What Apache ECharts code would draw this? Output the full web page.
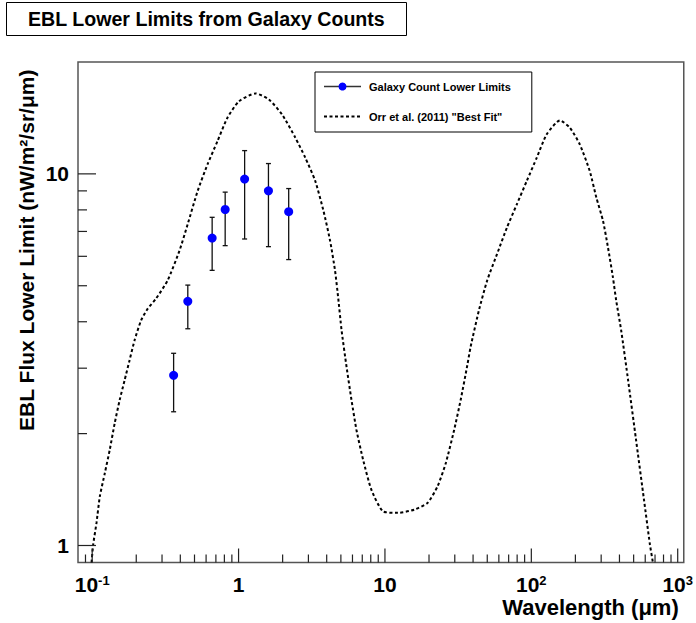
<!DOCTYPE html>
<html>
<head>
<meta charset="utf-8">
<script src="https://cdn.jsdelivr.net/npm/echarts@6/dist/echarts.min.js"></script>
<style>
  html, body { margin: 0; padding: 0; background: #fff; }
  #chart { width: 696px; height: 623px; }
</style>
</head>
<body>
<div id="chart"></div>
<script>
// ---- Data ----
const titleText = 'EBL Lower Limits from Galaxy Counts';
const xTitle = 'Wavelength (\u03bcm)';
const yTitle = 'EBL Flux Lower Limit (nW/m\u00b2/sr/\u03bcm)';
const seriesNames = ['Galaxy Count Lower Limits', 'Orr et al. (2011) "Best Fit"'];

// Galaxy count points (wavelength in micron, flux, lower/upper error bar ends)
const galaxyWavelength = [0.36, 0.45, 0.66, 0.81, 1.1, 1.6, 2.2];
const galaxyFlux       = [2.87, 4.54, 6.72, 8.02, 9.68, 9.0, 7.91];
const galaxyErrLow     = [2.29, 3.83, 5.50, 6.41, 6.68, 6.37, 5.88];
const galaxyErrHigh    = [3.29, 5.02, 7.64, 8.93, 11.55, 10.66, 9.13];

// Orr et al. (2011) "Best Fit" curve
const orrX = [0.099, 0.1016, 0.107, 0.1128, 0.122, 0.1318, 0.1425, 0.1541, 0.1666, 0.1801, 0.1948, 0.2159, 0.2397, 0.2729, 0.3275, 0.395, 0.4496, 0.5256, 0.6145, 0.7184, 0.8396, 1.008, 1.308, 1.61, 1.982, 2.443, 2.855, 3.338, 3.8, 4.219, 4.56, 4.8, 5.055, 5.466, 5.909, 6.389, 7.093, 8.074, 9.69, 12.25, 15.9, 19.56, 22.87, 26.04, 29.7, 32.9, 36.54, 38.47, 43.85, 49.93, 58.37, 68.22, 79.74, 93.2, 109, 127.4, 156.8, 183.3, 214.2, 250.4, 278, 308.7, 333.8, 360.8, 379.9, 410.9, 458.2, 519.3, 588.3, 646, 677];
const orrY = [0.9, 1.006, 1.15, 1.356, 1.566, 1.809, 2.133, 2.463, 2.786, 3.153, 3.567, 4.036, 4.338, 4.615, 5.167, 6.218, 7.33, 9.0, 10.62, 12.26, 14.16, 15.69, 16.46, 15.86, 14.45, 12.51, 11.06, 9.58, 7.96, 6.61, 5.495, 4.615, 3.794, 3.025, 2.463, 2.046, 1.701, 1.413, 1.236, 1.224, 1.249, 1.302, 1.442, 1.666, 2.046, 2.463, 3.057, 3.422, 4.293, 5.167, 6.09, 7.178, 8.295, 9.58, 11.06, 12.78, 13.93, 13.31, 12.01, 10.19, 8.64, 7.48, 6.346, 5.272, 4.566, 3.794, 2.786, 1.924, 1.328, 1.006, 0.9];

// Axis ranges and ticks
const xRange = [0.08, 1100];
const yRange = [0.9, 20];
const xMajorTicks = [0.1, 1, 10, 100, 1000];
const yMajorTicks = [1, 10];
const minorMultipliers = [2, 3, 4, 5, 6, 7, 8, 9];
const xDecades = [0.01, 0.1, 1, 10, 100, 1000];
const yDecades = [0.1, 1, 10];

// ---- Build ----
const FONT = "'Liberation Sans', Arial, sans-serif";
function minorTicks(decades, range) {
  const out = [];
  decades.forEach(d => minorMultipliers.forEach(m => {
    const v = m * d;
    if (v > range[0] * 1.0001 && v < range[1] * 0.9999) out.push(v);
  }));
  return out;
}
const tickData = [];
xMajorTicks.forEach(v => tickData.push([v, yRange[0], 14, 0]));
minorTicks(xDecades, xRange).forEach(v => tickData.push([v, yRange[0], 8, 0]));
yMajorTicks.forEach(v => tickData.push([xRange[0], v, 18, 1]));
minorTicks(yDecades, yRange).forEach(v => tickData.push([xRange[0], v, 9, 1]));

const pointData = galaxyWavelength.map((x, i) => [x, galaxyFlux[i]]);
const errData = galaxyWavelength.map((x, i) => [x, galaxyErrLow[i], galaxyErrHigh[i]]);
const curveData = orrX.map((x, i) => [x, orrY[i]]);

function powLabel(v) {
  const e = Math.log10(v);
  const r = Math.round(e);
  if (Math.abs(e - r) > 1e-6) return '';
  if (r === 0) return '{b|1}';
  if (r === 1) return '{b|10}';
  return '{b|10}{s|' + r + '}';
}

const richLabel = {
  b: { fontSize: 21, fontWeight: 'bold', fontFamily: FONT, color: '#000', verticalAlign: 'bottom' },
  s: { fontSize: 13, fontWeight: 'bold', fontFamily: FONT, color: '#000', verticalAlign: 'top' }
};

const chart = echarts.init(document.getElementById('chart'), null, { renderer: 'svg' });
chart.setOption({
  animation: false,
  backgroundColor: '#fff',
  title: {
    text: titleText,
    left: 6, top: 2,
    padding: [5, 22, 5, 22],
    borderColor: '#000', borderWidth: 1,
    backgroundColor: '#fff',
    textStyle: { fontFamily: FONT, fontSize: 19.6, lineHeight: 24, fontWeight: 'bold', color: '#000' }
  },
  legend: {
    left: 315, top: 72,
    orient: 'vertical',
    itemWidth: 37, itemHeight: 10, itemGap: 19,
    padding: [9, 21, 10, 8],
    borderColor: '#000', borderWidth: 1,
    backgroundColor: '#fff',
    textStyle: { fontSize: 11, fontWeight: 'bold', fontFamily: FONT, color: '#000', padding: [0, 0, 0, 3] },
    data: [
      { name: seriesNames[0], lineStyle: { color: '#333', width: 1.3, opacity: 1, type: 'solid' } },
      { name: seriesNames[1], itemStyle: { opacity: 0 } }
    ]
  },
  grid: {
    left: 78, right: 8, top: 62, bottom: 60.5,
    show: true, borderColor: '#555', borderWidth: 1.5, backgroundColor: 'transparent'
  },
  xAxis: {
    type: 'log', logBase: 10, min: xRange[0], max: xRange[1],
    axisLine: { show: false }, axisTick: { show: false }, splitLine: { show: false },
    axisLabel: { margin: 11, formatter: powLabel, rich: richLabel },
    name: xTitle, nameLocation: 'end', nameGap: -5, nameMoveOverlap: false,
    nameTextStyle: { align: 'right', verticalAlign: 'top', padding: [34, 0, 0, 0], fontSize: 22, fontWeight: 'bold', fontFamily: FONT, color: '#000' }
  },
  yAxis: {
    type: 'log', logBase: 10, min: yRange[0], max: yRange[1],
    axisLine: { show: false }, axisTick: { show: false }, splitLine: { show: false },
    axisLabel: { margin: 9, formatter: powLabel, rich: richLabel },
    name: yTitle, nameLocation: 'middle', nameGap: 41, nameRotate: 90, nameMoveOverlap: false,
    nameTextStyle: { fontSize: 21, fontWeight: 'bold', fontFamily: FONT, color: '#000', padding: [0, 0, 0, 124] }
  },
  series: [
    {
      type: 'custom', name: 'ticks', silent: true, z: 5,
      data: tickData,
      encode: { x: 0, y: 1 },
      renderItem: function (params, api) {
        const p = api.coord([api.value(0), api.value(1)]);
        const len = api.value(2), dir = api.value(3);
        const shape = dir === 0
          ? { x1: p[0], y1: p[1], x2: p[0], y2: p[1] - len }
          : { x1: p[0], y1: p[1], x2: p[0] + len, y2: p[1] };
        return { type: 'line', shape: shape, style: { stroke: '#222', lineWidth: 1.2 } };
      }
    },
    {
      type: 'line', name: seriesNames[1], data: curveData,
      showSymbol: false, symbol: 'none', smooth: 0.2, z: 2,
      lineStyle: { color: '#000', width: 2, type: [3, 2.5] },
      itemStyle: { color: '#000' }
    },
    {
      type: 'custom', name: 'errors', silent: true, z: 3,
      data: errData,
      encode: { x: 0, y: [1, 2] },
      renderItem: function (params, api) {
        const x = api.value(0);
        const lo = api.coord([x, api.value(1)]);
        const hi = api.coord([x, api.value(2)]);
        const cw = 2.5;
        const st = { stroke: '#111', lineWidth: 1.3 };
        return {
          type: 'group', children: [
            { type: 'line', shape: { x1: lo[0], y1: lo[1], x2: hi[0], y2: hi[1] }, style: st },
            { type: 'line', shape: { x1: lo[0] - cw, y1: lo[1], x2: lo[0] + cw, y2: lo[1] }, style: st },
            { type: 'line', shape: { x1: hi[0] - cw, y1: hi[1], x2: hi[0] + cw, y2: hi[1] }, style: st }
          ]
        };
      }
    },
    {
      type: 'line', name: seriesNames[0], data: pointData,
      symbol: 'circle', symbolSize: 9, showSymbol: true, z: 4,
      lineStyle: { opacity: 0 },
      itemStyle: { color: '#0000ff' },
      emphasis: { disabled: true }
    }
  ]
});
</script>
</body>
</html>
